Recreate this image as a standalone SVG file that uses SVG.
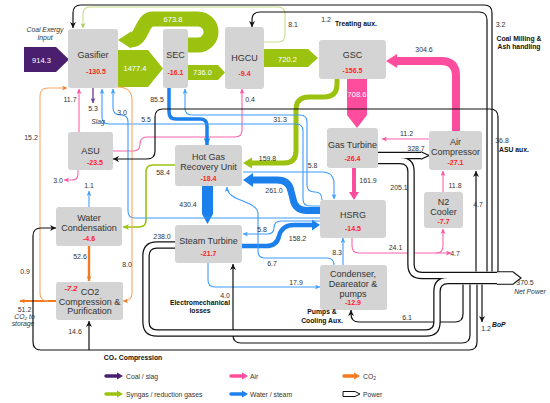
<svg xmlns="http://www.w3.org/2000/svg" width="550" height="403" viewBox="0 0 550 403">
<defs>
<style>
text{font-family:"Liberation Sans",Arial,sans-serif}
.box{fill:#d4d4d4}
.t{font-size:9px;fill:#333;text-anchor:middle}
.v{font-size:7px;font-weight:bold;fill:#ff1f1f;text-anchor:middle}
.n{font-size:7px;fill:#333;text-anchor:middle}
.w{font-size:7.5px;fill:#fff;text-anchor:middle}
.bd{font-size:6.8px;font-weight:bold;fill:#111}
.it{font-size:6.8px;font-style:italic;fill:#333}
.lgt{font-size:6.8px;fill:#333}
.k{fill:none;stroke:#111;stroke-width:1.2}
.lb{fill:none;stroke:#3d9cff;stroke-width:1.1}
.pk{fill:none;stroke:#ff62ad;stroke-width:1.1}
.or{fill:none;stroke:#f9a766;stroke-width:1.1}
.ol{fill:none;stroke:#9bc20e;stroke-width:1.6}
.lg{fill:none;stroke:#c8dd8f;stroke-width:1.1}
.pb{fill:none;stroke:#111;stroke-width:7.5}
.pw{fill:none;stroke:#fff;stroke-width:5}
.G{fill:#9bc20e}.P{fill:#ff4d9d}.B{fill:#1b80ec}
</style>
<marker id="ak" viewBox="0 0 10 10" refX="10" refY="5" markerWidth="6" markerHeight="6" orient="auto" markerUnits="userSpaceOnUse"><path d="M0,0 L10,5 L0,10 L3,5 z" fill="#111"/></marker>
<marker id="alb" viewBox="0 0 10 10" refX="10" refY="5" markerWidth="5" markerHeight="5" orient="auto" markerUnits="userSpaceOnUse"><path d="M0,0 L10,5 L0,10 L3,5 z" fill="#3d9cff"/></marker>
<marker id="ab" viewBox="0 0 10 10" refX="10" refY="5" markerWidth="7" markerHeight="7" orient="auto" markerUnits="userSpaceOnUse"><path d="M0,0 L10,5 L0,10 L3,5 z" fill="#1b80ec"/></marker>
<marker id="apk" viewBox="0 0 10 10" refX="10" refY="5" markerWidth="5" markerHeight="5" orient="auto" markerUnits="userSpaceOnUse"><path d="M0,0 L10,5 L0,10 L3,5 z" fill="#ff4d9d"/></marker>
<marker id="aor" viewBox="0 0 10 10" refX="10" refY="5" markerWidth="5" markerHeight="5" orient="auto" markerUnits="userSpaceOnUse"><path d="M0,0 L10,5 L0,10 L3,5 z" fill="#f47a1f"/></marker>
<marker id="aol" viewBox="0 0 10 10" refX="10" refY="5" markerWidth="6" markerHeight="6" orient="auto" markerUnits="userSpaceOnUse"><path d="M0,0 L10,5 L0,10 L3,5 z" fill="#9bc20e"/></marker>
<marker id="alg" viewBox="0 0 10 10" refX="10" refY="5" markerWidth="5" markerHeight="5" orient="auto" markerUnits="userSpaceOnUse"><path d="M0,0 L10,5 L0,10 L3,5 z" fill="#a9c95a"/></marker>
<marker id="apu" viewBox="0 0 10 10" refX="10" refY="5" markerWidth="5" markerHeight="5" orient="auto" markerUnits="userSpaceOnUse"><path d="M0,0 L10,5 L0,10 L3,5 z" fill="#6a3a90"/></marker>
</defs>
<rect width="550" height="403" fill="#fff"/>
<g id="connectors">
<polygon points="24,47 56,47 69,59.5 56,72 24,72" fill="#4b1f6f"/>
<polygon class="G" points="118,50 148,50 163,68.5 148,87 118,87"/>
<polygon class="G" points="188,65 218,65 225,72.5 218,80 188,80"/>
<polygon class="G" points="264,49 308,49 318,58 308,67 264,67"/>
<path d="M187 45 H198 A13 13 0 0 0 198 19 H153 C141 19 143 40 131 40" fill="none" stroke="#9bc20e" stroke-width="15"/>
<polygon class="G" points="118,40 131,31.5 131,48.5"/>
<path d="M337 79 V84 Q337 97 324 97 H309 Q296 97 296 110 V151 Q296 163 284 163 H251" fill="none" stroke="#9bc20e" stroke-width="5"/>
<polygon class="G" points="243,163 252,157.5 252,168.5"/>
<path class="ol" d="M175 165 H153 Q146 165 146 172 V220 Q146 227 139 227 H123" marker-end="url(#aol)"/>
<path class="lg" d="M264 42 H278 Q285 42 285 35 V14 Q285 7 278 7 H90 Q83 7 83 14 V28" marker-end="url(#alg)"/>
<polygon class="P" points="347,79 367,79 367,115 357,128 347,115"/>
<path d="M456 131 V76 Q456 61 441 61 H396" fill="none" stroke="#ff4d9d" stroke-width="8"/>
<polygon class="P" points="386,61 397,54 397,68"/>
<path d="M354 168 V193" fill="none" stroke="#ff4d9d" stroke-width="4"/>
<polygon class="P" points="349,192 359,192 354,200"/>
<path class="pk" d="M429 139 H382" marker-end="url(#apk)"/>
<path class="pk" d="M443 192 V171" marker-end="url(#apk)"/>
<path class="pk" d="M352 238 V246 Q352 253 359 253 H451" marker-end="url(#apk)"/>
<path class="pk" d="M436 253 Q443 253 443 246 V229" marker-end="url(#apk)"/>
<path class="pk" d="M79 132 V89" marker-end="url(#apk)"/>
<path class="pk" d="M78 170 V174 Q78 180 72 180 H64" marker-end="url(#apk)"/>
<path class="pk" d="M113 151 H133 Q140 151 140 144 Q140 137 147 137 H235 Q242 137 242 130 V89" marker-end="url(#apk)"/>
<path d="M169 88 V112 Q169 119 176 119 H200 Q207 119 207 126 V145" fill="none" stroke="#1b80ec" stroke-width="3.5" marker-end="url(#ab)"/>
<polygon class="B" points="202,186 213,186 213,214 207.5,224 202,214"/>
<path d="M320 210.5 H307 Q295 210.5 293 199 L291 191 Q289 180 277 180 H251" fill="none" stroke="#1b80ec" stroke-width="7"/>
<polygon class="B" points="243,180 253,173 253,187"/>
<path d="M242 246 H266 Q277 246 279 236 Q282 225 294 225 H313" fill="none" stroke="#1b80ec" stroke-width="4.5"/>
<polygon class="B" points="320,225 312,219.5 312,230.5"/>
<path class="lb" d="M320 218 H135 Q128 218 128 211 V122 Q128 115 121 115 Q113 115 113 108 V89" marker-end="url(#alb)"/>
<path class="lb" d="M320 206 H310 Q303 206 303 199 V131 Q303 124 296 124 H109 Q102 124 102 117 V89" marker-end="url(#alb)"/>
<path class="lb" d="M322 200 Q322 192 315 192 Q307 192 307 185 V122 Q307 115 300 115 H192 Q185 115 185 108 V89" marker-end="url(#alb)"/>
<path class="lb" d="M243 172 H322 Q334 172 334 184 V199" marker-end="url(#alb)"/>
<path class="lb" d="M320 221 H281 Q274 221 274 228 Q274 234 267 234 H243" marker-end="url(#alb)"/>
<path class="lb" d="M334 265 Q334 258 327 258 H265 Q258 258 258 251 V214 C258 200 227 202 227 187" marker-end="url(#alb)"/>
<path class="lb" d="M208 263 V280 Q208 287 215 287 H320" marker-end="url(#alb)"/>
<path class="lb" d="M343 265 V238" marker-end="url(#alb)"/>
<path class="lb" d="M89 207 V191" marker-end="url(#alb)"/>
<path d="M89 246 V281" fill="none" stroke="#f47a1f" stroke-width="2.4" marker-end="url(#aor)"/>
<path d="M56 301 H20" fill="none" stroke="#f47a1f" stroke-width="2" marker-end="url(#aor)"/>
<path class="or" d="M48 301 Q40 301 40 293 V96 Q40 88 48 88 H67" marker-end="url(#aor)"/>
<path class="or" d="M117 87 Q132 87 132 100 V293 Q132 301 123 301" marker-end="url(#aor)"/>
<path d="M93 88 V103" fill="none" stroke="#6a3a90" stroke-width="1.3" marker-end="url(#apu)"/>
<path class="k" d="M492 271.5 V13 Q492 5 484 5 H81 Q73 5 73 13 V28" marker-end="url(#ak)"/>
<path class="k" d="M487 271.5 V20 Q487 12 479 12 H260 Q252 12 252 20 V27" marker-end="url(#ak)"/>
<path class="k" d="M498 271.5 V117 Q498 109 490 109 H163 Q155 109 155 117 V151 Q155 159 147 159 H113" marker-end="url(#ak)"/>
<path class="k" d="M476 271.5 V171" marker-end="url(#ak)"/>
<path class="k" d="M463 284.5 V314 Q463 322 455 322 H359 Q351 322 351 314 V310" marker-end="url(#ak)"/>
<path class="k" d="M470 284.5 V335 Q470 343 462 343 H241 Q233 343 233 335 V264" marker-end="url(#ak)"/>
<path class="k" d="M477 284.5 V342 Q477 350 469 350 H41 Q33 350 33 342 V236 Q33 228 41 228 H56" marker-end="url(#ak)"/>
<path class="k" d="M89 350 V321" marker-end="url(#ak)"/>
<path class="k" d="M482 284.5 V322" marker-end="url(#ak)"/>
<path class="pb" d="M378 155.5 H421.5"/>
<path class="pb" d="M378 160.5 H400 Q411 160.5 411 171.5 V264.5 Q411 275.5 422 275.5 H500"/>
<path class="pb" d="M175.5 245 H157 Q146 245 146 256 V322 Q146 333 157 333 H426 Q437 333 437 322 V291.5 Q437 280.5 448 280.5 H500"/>
<path class="pw" d="M378 155.5 H421.5"/>
<path class="pw" d="M378 160.5 H400 Q411 160.5 411 171.5 V264.5 Q411 275.5 422 275.5 H500"/>
<path class="pw" d="M175.5 245 H157 Q146 245 146 256 V322 Q146 333 157 333 H426 Q437 333 437 322 V291.5 Q437 280.5 448 280.5 H500"/>
<path d="M421 151.75 L429 155.5 L421 159.25" fill="#fff" stroke="#111" stroke-width="1.2"/>
<path d="M497 271.75 H513 L521 278 L513 284.25 H497" fill="#fff" stroke="#111" stroke-width="1.2"/>
</g>
<g id="gasifier"><rect class="box" x="68" y="29" width="50" height="59" rx="3"/><text class="t" x="93" y="58">Gasifier</text><text class="v" x="96" y="74">-130.5</text></g>
<g id="sec"><rect class="box" x="163" y="29" width="25" height="59" rx="3"/><text class="t" x="175.5" y="58">SEC</text><text class="v" x="175.5" y="75">-16.1</text></g>
<g id="hgcu"><rect class="box" x="225" y="27" width="39" height="62" rx="3"/><text class="t" x="244.5" y="61">HGCU</text><text class="v" x="244.5" y="76">-9.4</text></g>
<g id="gsc"><rect class="box" x="319" y="40" width="67" height="39" rx="3"/><text class="t" x="352.5" y="58">GSC</text><text class="v" x="352.5" y="73">-156.5</text></g>
<g id="asu"><rect class="box" x="68" y="132" width="45" height="38" rx="3"/><text class="t" x="90.5" y="154">ASU</text><text class="v" x="95" y="165">-23.5</text></g>
<g id="hgru"><rect class="box" x="175" y="145" width="67" height="41" rx="3"/><text class="t" x="208.5" y="160">Hot Gas</text><text class="t" x="208.5" y="170">Recovery Unit</text><text class="v" x="208.5" y="181">-18.4</text></g>
<g id="gas-turbine"><rect class="box" x="327" y="128" width="51" height="40" rx="3"/><text class="t" x="352.5" y="148">Gas Turbine</text><text class="v" x="352.5" y="161">-26.4</text></g>
<g id="air-compressor"><rect class="box" x="429" y="131" width="53" height="39" rx="3"/><text class="t" x="455.5" y="145">Air</text><text class="t" x="455.5" y="155">Compressor</text><text class="v" x="455.5" y="165">-27.1</text></g>
<g id="n2-cooler"><rect class="box" x="424" y="192" width="39" height="36" rx="3"/><text class="t" x="443.5" y="205">N2</text><text class="t" x="443.5" y="215">Cooler</text><text class="v" x="443.5" y="224">-7.7</text></g>
<g id="hsrg"><rect class="box" x="320" y="200" width="66" height="38" rx="3"/><text class="t" x="353" y="218">HSRG</text><text class="v" x="353" y="231">-14.5</text></g>
<g id="water-condensation"><rect class="box" x="56" y="207" width="66" height="39" rx="3"/><text class="t" x="89" y="221">Water</text><text class="t" x="89" y="231">Condensation</text><text class="v" x="89" y="241">-4.6</text></g>
<g id="steam-turbine"><rect class="box" x="175" y="225" width="67" height="38" rx="3"/><text class="t" x="208.5" y="244">Steam Turbine</text><text class="v" x="208.5" y="256">-21.7</text></g>
<g id="condenser"><rect class="box" x="320" y="265" width="67" height="45" rx="3"/><text class="t" x="353" y="277">Condenser,</text><text class="t" x="353" y="287">Deareator &amp;</text><text class="t" x="353" y="297">pumps</text><text class="v" x="353" y="305">-12.9</text></g>
<g id="co2-compression"><rect class="box" x="56" y="282" width="67" height="38" rx="3"/><text class="v" x="71" y="291" style="font-style:italic;font-size:7.5px">-7.2</text><text class="t" x="90" y="295">CO2</text><text class="t" x="89.5" y="305">Compression &amp;</text><text class="t" x="89.5" y="314">Purification</text></g>
<g id="labels">
<text class="w" x="41.5" y="62.5">914.3</text>
<text class="w" x="135" y="70.5">1477.4</text>
<text class="w" x="173" y="21.5">673.8</text>
<text class="w" x="202.5" y="75">736.0</text>
<text class="w" x="287.5" y="61.5">720.2</text>
<text class="w" x="357" y="97">708.6</text>
<text class="n" x="424" y="52">304.6</text>
<text class="n" x="293" y="27">8.1</text>
<text class="n" x="326" y="22">1.2</text>
<text class="bd" x="335" y="25.5">Treating aux.</text>
<text class="n" x="500.5" y="27">3.2</text>
<text class="bd" x="519" y="41" text-anchor="middle">Coal Milling &amp;</text>
<text class="bd" x="519" y="49" text-anchor="middle">Ash handling</text>
<text class="it" x="45" y="31.5" text-anchor="middle">Coal Exergy</text>
<text class="it" x="45" y="39.5" text-anchor="middle">Input</text>
<text class="n" x="70" y="102">11.7</text>
<text class="n" x="93" y="111">5.3</text>
<text class="it" x="98" y="124" text-anchor="middle">Slag</text>
<text class="n" x="122" y="115">3.0</text>
<text class="n" x="146" y="122">5.5</text>
<text class="n" x="157" y="101.5">85.5</text>
<text class="n" x="250" y="101.5">0.4</text>
<text class="n" x="280" y="122">31.3</text>
<text class="n" x="31" y="139.5">15.2</text>
<text class="n" x="406.5" y="135.5">11.2</text>
<text class="n" x="416" y="150.5">328.7</text>
<text class="n" x="502" y="143" text-anchor="start">36.8</text>
<text class="bd" x="499" y="152">ASU aux.</text>
<text class="n" x="267.5" y="160.5">159.8</text>
<text class="n" x="312.5" y="167.5">5.8</text>
<text class="n" x="368" y="182.5">161.9</text>
<text class="n" x="163" y="175">58.4</text>
<text class="n" x="58" y="182.5">3.0</text>
<text class="n" x="89" y="188">1.1</text>
<text class="n" x="455" y="188">11.8</text>
<text class="n" x="399" y="189.5">205.1</text>
<text class="n" x="274" y="192.5">261.0</text>
<text class="n" x="188" y="206.5">430.4</text>
<text class="n" x="478" y="207" text-anchor="start">4.7</text>
<text class="n" x="262" y="231.5">5.8</text>
<text class="n" x="162" y="238.5">238.0</text>
<text class="n" x="297.5" y="240.5">158.2</text>
<text class="n" x="395.5" y="249.5">24.1</text>
<text class="n" x="455" y="255.5" text-anchor="start">4.7</text>
<text class="n" x="337" y="254.5">8.3</text>
<text class="n" x="80" y="258.5">52.6</text>
<text class="n" x="127" y="266.5">8.0</text>
<text class="n" x="272" y="266">6.7</text>
<text class="n" x="25" y="273.5">0.9</text>
<text class="n" x="296" y="284.5">17.9</text>
<text class="n" x="525" y="285" text-anchor="start">370.5</text>
<text class="it" x="530" y="294" text-anchor="middle">Net Power</text>
<text class="n" x="225" y="298">4.0</text>
<text class="bd" x="200" y="305" text-anchor="middle">Electromechanical</text>
<text class="bd" x="200" y="313" text-anchor="middle">losses</text>
<text class="n" x="24.5" y="311.5">51.2</text>
<text class="it" x="24.5" y="318.5" text-anchor="middle">CO₂ to</text>
<text class="it" x="23" y="326" text-anchor="middle">storage</text>
<text class="bd" x="322" y="314" text-anchor="middle">Pumps &amp;</text>
<text class="bd" x="322" y="322.5" text-anchor="middle">Cooling Aux.</text>
<text class="n" x="407" y="320">6.1</text>
<text class="n" x="486" y="330.5">1.2</text>
<text class="bd" x="492" y="326.5" style="font-style:italic">BoP</text>
<text class="n" x="75" y="334">14.6</text>
<text class="bd" x="133" y="360" text-anchor="middle">CO₂ Compression</text>
</g>
<g id="legend">
<path d="M106 376 H118" stroke="#4b1f6f" stroke-width="3.5" stroke-linecap="round"/><polygon points="117,372.5 123,376 117,379.5" fill="#4b1f6f"/>
<text class="lgt" x="126" y="378.5">Coal / slag</text>
<path d="M231 376 H243" stroke="#ff4d9d" stroke-width="3.5" stroke-linecap="round"/><polygon points="242,372.5 248,376 242,379.5" fill="#ff4d9d"/>
<text class="lgt" x="250" y="378.5">Air</text>
<path d="M344 376 H355" stroke="#f47a1f" stroke-width="3.5" stroke-linecap="round"/><polygon points="354,372.5 360,376 354,379.5" fill="#f47a1f"/>
<text class="lgt" x="363" y="378.5">CO<tspan font-size="5" dy="1.5">2</tspan></text>
<path d="M106 394 H118" stroke="#9bc20e" stroke-width="3.5" stroke-linecap="round"/><polygon points="117,390.5 123,394 117,397.5" fill="#9bc20e"/>
<text class="lgt" x="126" y="396.5">Syngas / reduction gases</text>
<path d="M231 394 H243" stroke="#1b80ec" stroke-width="3.5" stroke-linecap="round"/><polygon points="242,390.5 248,394 242,397.5" fill="#1b80ec"/>
<text class="lgt" x="250" y="396.5">Water / steam</text>
<path d="M343 391.5 H355 L360 394 L355 396.5 H343 Z" fill="#fff" stroke="#111" stroke-width="1"/>
<text class="lgt" x="363" y="396.5">Power</text>
</g>
</svg>
